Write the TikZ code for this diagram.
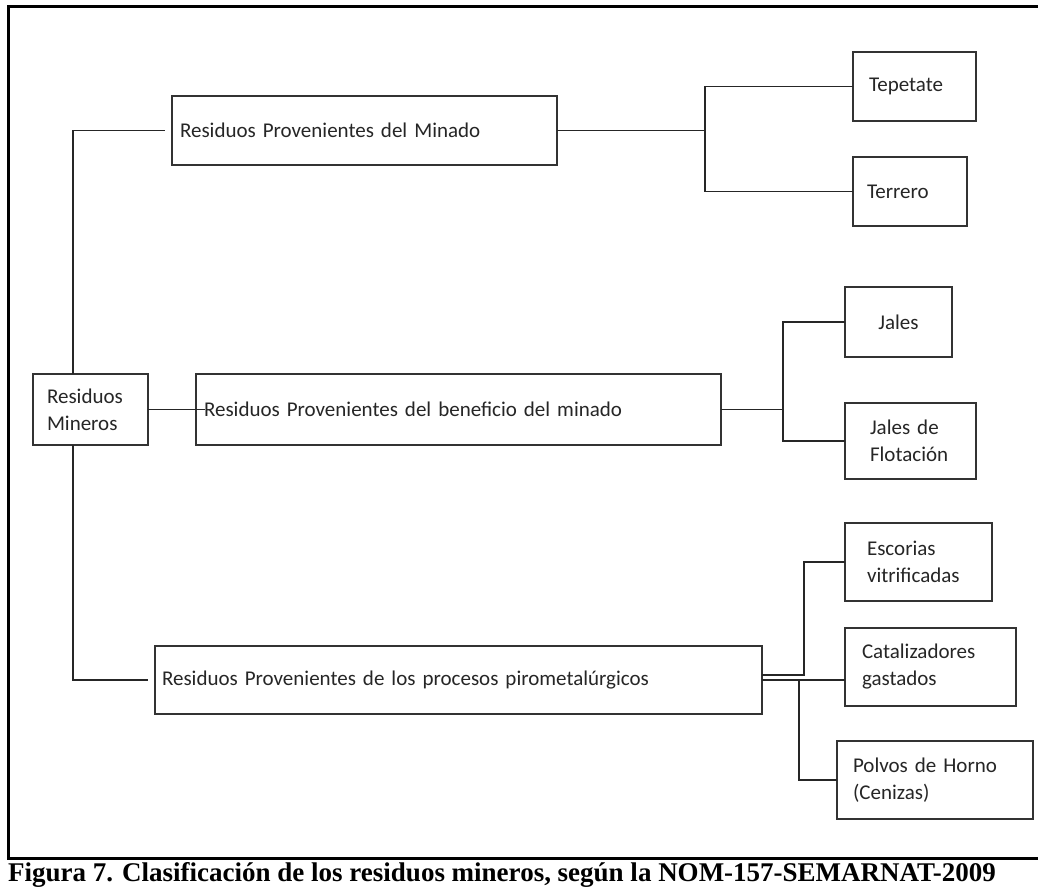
\documentclass[tikz,border=0pt]{standalone}
\usepackage{fontspec}
\setmainfont{Liberation Serif}
\newfontfamily\cajafont{Carlito}
\usetikzlibrary{calc}

\tikzset{
    caja/.style={draw=black!80, line width=1.6pt, anchor=north west, align=left,
        outer sep=0pt, inner ysep=0pt, text=black!85,
        font=\cajafont\fontsize{21}{27}\selectfont},
    rama/.style={draw=black!85, line width=1.6pt}
}

\begin{document}
\begin{tikzpicture}[x=1pt, y=-1pt]
    \path[fill=white] (0,0) rectangle (1038,888);
    \useasboundingbox (0,0) rectangle (1038,888);

    % Frame
    \draw[line width=3pt] (1038,7) -- (8,7) -- (8,858) -- (1038,858);

    % Left column
    \node[caja, minimum width=115, minimum height=71, inner xsep=14, text width=87] (mineros) at (33,374) {Residuos\\Mineros};

    % Middle column
    \node[caja, minimum width=385, minimum height=69, inner xsep=8, text width=369] (minado) at (172,96) {Residuos Provenientes del Minado};
    \node[caja, minimum width=525, minimum height=71, inner xsep=8, text width=509] (beneficio) at (196,374) {Residuos Provenientes del beneficio del minado};
    \node[caja, minimum width=607, minimum height=68, inner xsep=7, text width=593] (piro) at (155,646) {Residuos Provenientes de los procesos pirometalúrgicos};

    % Right column
    \node[caja, minimum width=123, minimum height=69, inner xsep=16, text width=91] (tepetate) at (853,52) {Tepetate};
    \node[caja, minimum width=114, minimum height=69, inner xsep=14, text width=86] (terrero) at (853,157) {Terrero};
    \node[caja, minimum width=107, minimum height=70, inner xsep=10, text width=87, align=center] (jales) at (845,287) {Jales};
    \node[caja, minimum width=131, minimum height=76, inner xsep=25, text width=81] (flotacion) at (845,403) {Jales de\\Flotación};
    \node[caja, minimum width=147, minimum height=78, inner xsep=22, text width=103] (escorias) at (845,523) {Escorias\\vitrificadas};
    \node[caja, minimum width=171, minimum height=78, inner xsep=17, text width=137] (catalizadores) at (845,628) {Catalizadores\\gastados};
    \node[caja, minimum width=196, minimum height=78, inner xsep=16, text width=164] (polvos) at (837,741) {Polvos de Horno\\(Cenizas)};

    % Connectors
    \draw[rama, shorten >=7pt] ([xshift=40]mineros.north west) |- (minado.west);
    \draw[rama, shorten >=7pt] ([xshift=40]mineros.south west) |- (piro.west);
    \draw[rama, shorten >=-9pt] (mineros.east) -- (beneficio.west);

    \draw[rama] (minado.east) -- ++(148,0) coordinate (nudoA);
    \draw[rama] (tepetate.west) -| (nudoA) |- (terrero.west);

    \draw[rama] (beneficio.east) -- ++(62,0) coordinate (nudoB);
    \draw[rama] (jales.west) -| (nudoB) |- (flotacion.west);

    \draw[rama] ([yshift=5]piro.east) -- ++(42,0) |- (escorias.west);
    \draw[rama] (piro.east) -- (piro.east -| catalizadores.west);
    \draw[rama] ([xshift=37]piro.east) |- (polvos.west);

    % Caption
    \node[anchor=base west, inner sep=0pt, font=\bfseries\fontsize{27}{30}\selectfont] (pie) at (8,881) {Figura 7. Clasificación de los residuos mineros, según la NOM-157-SEMARNAT-2009};
\end{tikzpicture}
\end{document}
